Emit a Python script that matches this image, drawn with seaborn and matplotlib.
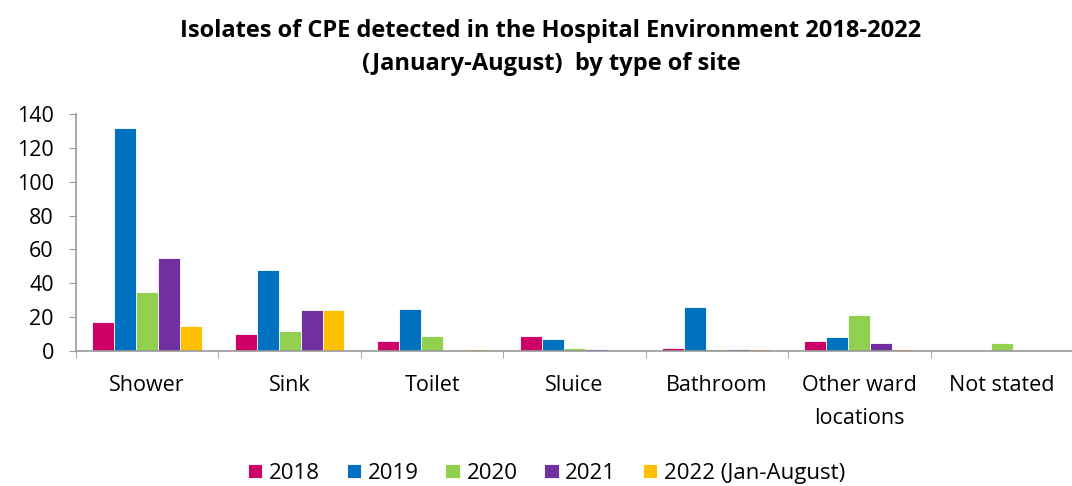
import seaborn as sns
import matplotlib.pyplot as plt
import numpy as np
import pandas as pd

sites = ["Shower", "Sink", "Toilet", "Sluice", "Bathroom", "Other ward\nlocations", "Not stated"]
years = ["2018", "2019", "2020", "2021", "2022 (Jan-August)"]
y2018 = [17, 10, 6, 9, 2, 6, 0]
y2019 = [132, 48, 25, 7, 26, 8, 0]
y2020 = [35, 12, 9, 2, 1, 21, 5]
y2021 = [55, 24, 0, 1, 1, 5, 0]
y2022 = [15, 24, 1, 0, 1, 1, 0]
colors = ["#CC0066", "#0070C0", "#92D050", "#7030A0", "#FFC000"]

rows = []
for yr, vals in zip(years, [y2018, y2019, y2020, y2021, y2022]):
    for s, v in zip(sites, vals):
        rows.append({"site": s, "year": yr, "count": v})
df = pd.DataFrame(rows)

sns.set_style("white")
plt.rcParams['font.family'] = ['Open Sans', 'DejaVu Sans']
plt.rcParams['text.color'] = 'black'

fig = plt.figure(figsize=(10.72, 4.86), dpi=100)
ax = fig.add_axes([0.0709, 0.2778, 0.93, 0.4877])
sns.barplot(data=df, x="site", y="count", hue="year", palette=colors,
            width=0.77, saturation=1, ax=ax, edgecolor="white", linewidth=0.6)

ax.set_ylim(0, 140)
ax.set_xlim(-0.5, len(sites) - 0.5)
ax.set_yticks(range(0, 141, 20))
ax.set_xlabel("")
ax.set_ylabel("")
ax.tick_params(axis="both", labelsize=15.5, colors="black")
ax.tick_params(axis="y", which="major", length=5, color="#999999", direction="out", left=True, pad=11)
ax.tick_params(axis="x", which="major", length=0, pad=17)
for lbl in ax.get_xticklabels():
    lbl.set_linespacing(1.75)
ax.set_xticks(np.arange(-0.5, len(sites), 1.0), minor=True)
ax.tick_params(axis="x", which="minor", length=5, color="#999999", bottom=True)
for side in ["top", "right"]:
    ax.spines[side].set_visible(False)
for side in ["left", "bottom"]:
    ax.spines[side].set_color("#999999")
    ax.spines[side].set_linewidth(1.2)

fig.suptitle("Isolates of CPE detected in the Hospital Environment 2018-2022\n(January-August)  by type of site",
             x=0.514, y=0.96, fontsize=17, fontweight="bold", linespacing=1.5, color="black")

handles, labels = ax.get_legend_handles_labels()
ax.legend(handles, labels, loc="lower center", bbox_to_anchor=(0.472, -0.645), ncol=5,
          frameon=False, fontsize=16, handlelength=0.65, handleheight=0.65,
          handletextpad=0.3, columnspacing=1.2)

plt.savefig("out.png", dpi=100)
